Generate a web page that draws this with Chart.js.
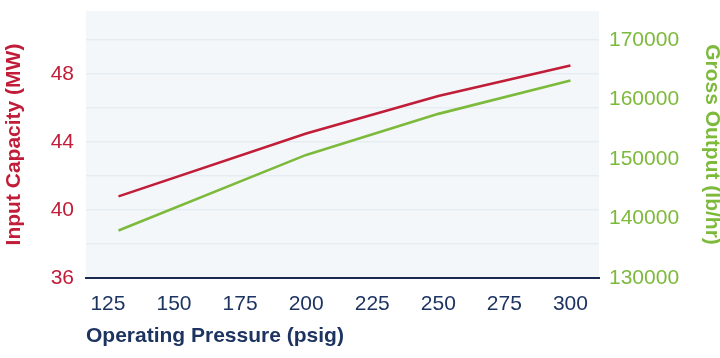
<!DOCTYPE html>
<html>
<head>
<meta charset="utf-8">
<script src="https://cdn.jsdelivr.net/npm/chart.js@4/dist/chart.umd.min.js"></script>
<style>
  html, body { margin: 0; padding: 0; background: #ffffff; }
  #wrap { width: 720px; height: 358px; position: relative; }
</style>
</head>
<body>
<div id="wrap"><canvas id="c" width="720" height="358"></canvas></div>
<script>
// ---- data ----
const pressures = [129, 200, 250, 300];                 // psig
const inputCapacity = [40.8, 44.5, 46.7, 48.5];         // MW
const grossOutput = [138000, 150700, 157600, 163200];   // lb/hr

const xTicks = [125, 150, 175, 200, 225, 250, 275, 300];
const leftTicks = [36, 40, 44, 48];
const rightTicks = [130000, 140000, 150000, 160000, 170000];

const xTitle = 'Operating Pressure (psig)';
const yLeftTitle = 'Input Capacity (MW)';
const yRightTitle = 'Gross Output (lb/hr)';

const RED = '#c11d38';
const GREEN = '#7dba3c';
const NAVY = '#1d3461';
const FONT = '"Liberation Sans", Arial, Helvetica, sans-serif';

const plotBg = {
  id: 'plotBg',
  beforeDraw(chart) {
    const {ctx, chartArea: a} = chart;
    ctx.save();
    ctx.fillStyle = '#f3f7fa';
    ctx.fillRect(a.left, a.top, a.right - a.left, a.bottom - a.top);
    ctx.restore();
  }
};

function zeroPad(s) { s.paddingTop = 0; s.paddingBottom = 0; s.paddingLeft = 0; s.paddingRight = 0; }

new Chart(document.getElementById('c'), {
  type: 'line',
  data: {
    datasets: [
      {
        label: yLeftTitle,
        data: pressures.map((p, i) => ({x: p, y: inputCapacity[i]})),
        borderColor: RED, borderWidth: 2.6, pointRadius: 0, tension: 0, yAxisID: 'y'
      },
      {
        label: yRightTitle,
        data: pressures.map((p, i) => ({x: p, y: grossOutput[i]})),
        borderColor: GREEN, borderWidth: 2.6, pointRadius: 0, tension: 0, yAxisID: 'y1'
      }
    ]
  },
  options: {
    responsive: false,
    animation: false,
    layout: { padding: { top: 11, left: 0, right: 0, bottom: 0 } },
    plugins: { legend: { display: false }, tooltip: { enabled: false } },
    scales: {
      x: {
        type: 'linear', min: 116.7, max: 310.8,
        grid: { display: false, drawTicks: false },
        border: { display: true, color: '#1a2b4f', width: 2 },
        afterBuildTicks(s) { s.ticks = xTicks.map(v => ({value: v})); },
        ticks: { padding: 14, color: NAVY, font: { family: FONT, size: 21 }, callback: v => String(v) },
        title: { display: true, text: xTitle, align: 'start', color: NAVY,
                 font: { family: FONT, size: 21, weight: 'bold', lineHeight: 1.2 }, padding: { top: 0, bottom: 9.4 } },
        afterFit(s) { s.height = 80; zeroPad(s); }
      },
      y: {
        position: 'left', min: 36, max: 51.7,
        grid: { display: true, drawTicks: false, color: '#e6edf2', lineWidth: 1.5 },
        border: { display: false },
        ticks: { stepSize: 2, includeBounds: false, padding: 12, color: RED, font: { family: FONT, size: 21 },
                 callback: v => (leftTicks.includes(v) ? String(v) : '') },
        title: { display: true, text: yLeftTitle, color: RED,
                 font: { family: FONT, size: 21, weight: 'bold', lineHeight: 1.2 }, padding: { top: 1.4, bottom: 0 } },
        afterFit(s) { s.width = 86; zeroPad(s); }
      },
      y1: {
        position: 'right', min: 130000, max: 174900,
        grid: { display: false, drawTicks: false, drawOnChartArea: false },
        border: { display: false },
        afterBuildTicks(s) { s.ticks = rightTicks.map(v => ({value: v})); },
        ticks: { padding: 10, color: GREEN, font: { family: FONT, size: 21 }, callback: v => String(v) },
        title: { display: true, text: yRightTitle, color: GREEN,
                 font: { family: FONT, size: 21, weight: 'bold', lineHeight: 0.8 }, padding: { top: 0, bottom: 0 } },
        afterFit(s) { s.width = 121; zeroPad(s); }
      }
    }
  },
  plugins: [plotBg]
});
</script>
</body>
</html>
